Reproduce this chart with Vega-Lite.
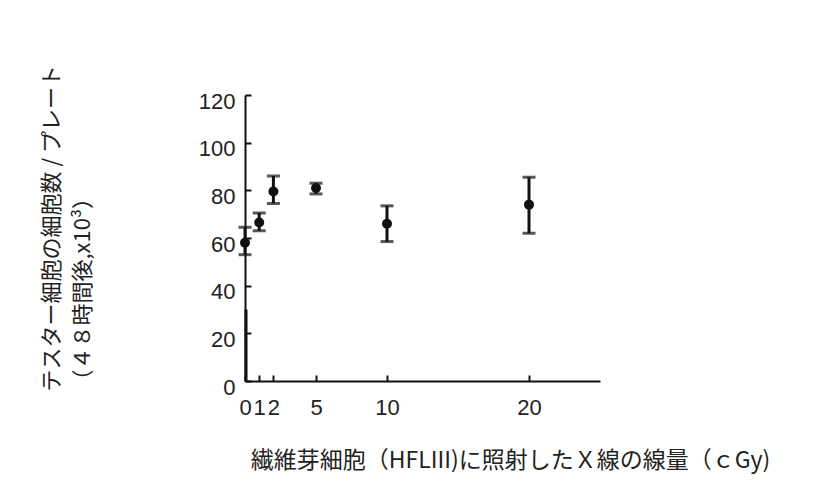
{
  "$schema": "https://vega.github.io/schema/vega-lite/v6.json",
  "autosize": "none",
  "width": 355,
  "height": 286,
  "padding": {"left": 245, "top": 95, "right": 220, "bottom": 104},
  "background": "white",
  "config": {
    "view": {"stroke": null},
    "axis": {
      "grid": false,
      "domainColor": "#111",
      "domainWidth": 2,
      "tickColor": "#111",
      "tickWidth": 2,
      "tickSize": -6,
      "labelFont": "Liberation Sans",
      "labelFontSize": 22,
      "labelColor": "#222",
      "titleFont": "Noto Sans CJK JP",
      "titleFontSize": 21,
      "titleFontWeight": "normal",
      "titleColor": "#222"
    }
  },
  "layer": [
    {
      "data": {"values": [
        {"dose": 0, "mean": 58, "lo": 53, "hi": 64.5},
        {"dose": 1, "mean": 66.5, "lo": 63, "hi": 70.5},
        {"dose": 2, "mean": 79.5, "lo": 74.5, "hi": 86},
        {"dose": 5, "mean": 81, "lo": 78.5, "hi": 83},
        {"dose": 10, "mean": 66, "lo": 58.5, "hi": 73.5},
        {"dose": 20, "mean": 74, "lo": 62, "hi": 85.5}
      ]},
      "layer": [
        {
          "mark": {"type": "rule", "color": "#111", "strokeWidth": 3},
          "encoding": {
            "x": {"field": "dose", "type": "quantitative",
              "scale": {"domain": [0, 25], "nice": false},
              "axis": {
                "values": [0, 1, 2, 5, 10, 20],
                "labelOverlap": false,
                "labelPadding": 22,
                "labelFlush": false,
                "title": "繊維芽細胞（HFLIII)に照射したＸ線の線量（ｃGy)",
                "titleFontSize": 23,
                "titleAlign": "center",
                "titleBaseline": "middle",
                "titleX": 265,
                "titleY": 79
              }},
            "y": {"field": "lo", "type": "quantitative",
              "scale": {"domain": [0, 120], "nice": false},
              "axis": {
                "values": [0, 20, 40, 60, 80, 100, 120],
                "labelPadding": 16,
                "labelOffset": 6,
                "labelFlush": false,
                "title": ["テスター細胞の細胞数 / プレート", "（４８時間後,x10³）"],
                "titleFontSize": 22,
                "titleAngle": -90,
                "titleAlign": "left",
                "titleBaseline": "top",
                "titleLineHeight": 31,
                "titleX": -204,
                "titleY": 296
              }},
            "y2": {"field": "hi"}
          }
        },
        {
          "mark": {"type": "tick", "orient": "horizontal", "color": "#111", "size": 13, "thickness": 3},
          "encoding": {
            "x": {"field": "dose", "type": "quantitative"},
            "y": {"field": "lo", "type": "quantitative"}
          }
        },
        {
          "mark": {"type": "tick", "orient": "horizontal", "color": "#111", "size": 13, "thickness": 3},
          "encoding": {
            "x": {"field": "dose", "type": "quantitative"},
            "y": {"field": "hi", "type": "quantitative"}
          }
        },
        {
          "mark": {"type": "point", "shape": "circle", "filled": true, "color": "#111", "opacity": 1, "size": 100},
          "encoding": {
            "x": {"field": "dose", "type": "quantitative"},
            "y": {"field": "mean", "type": "quantitative"}
          }
        }
      ]
    },
    {
      "data": {"values": [{"dose": 0, "lo": 0, "hi": 30}]},
      "mark": {"type": "rule", "color": "#111", "strokeWidth": 3, "xOffset": 1},
      "encoding": {
        "x": {"field": "dose", "type": "quantitative"},
        "y": {"field": "lo", "type": "quantitative"},
        "y2": {"field": "hi"}
      }
    }
  ]
}
